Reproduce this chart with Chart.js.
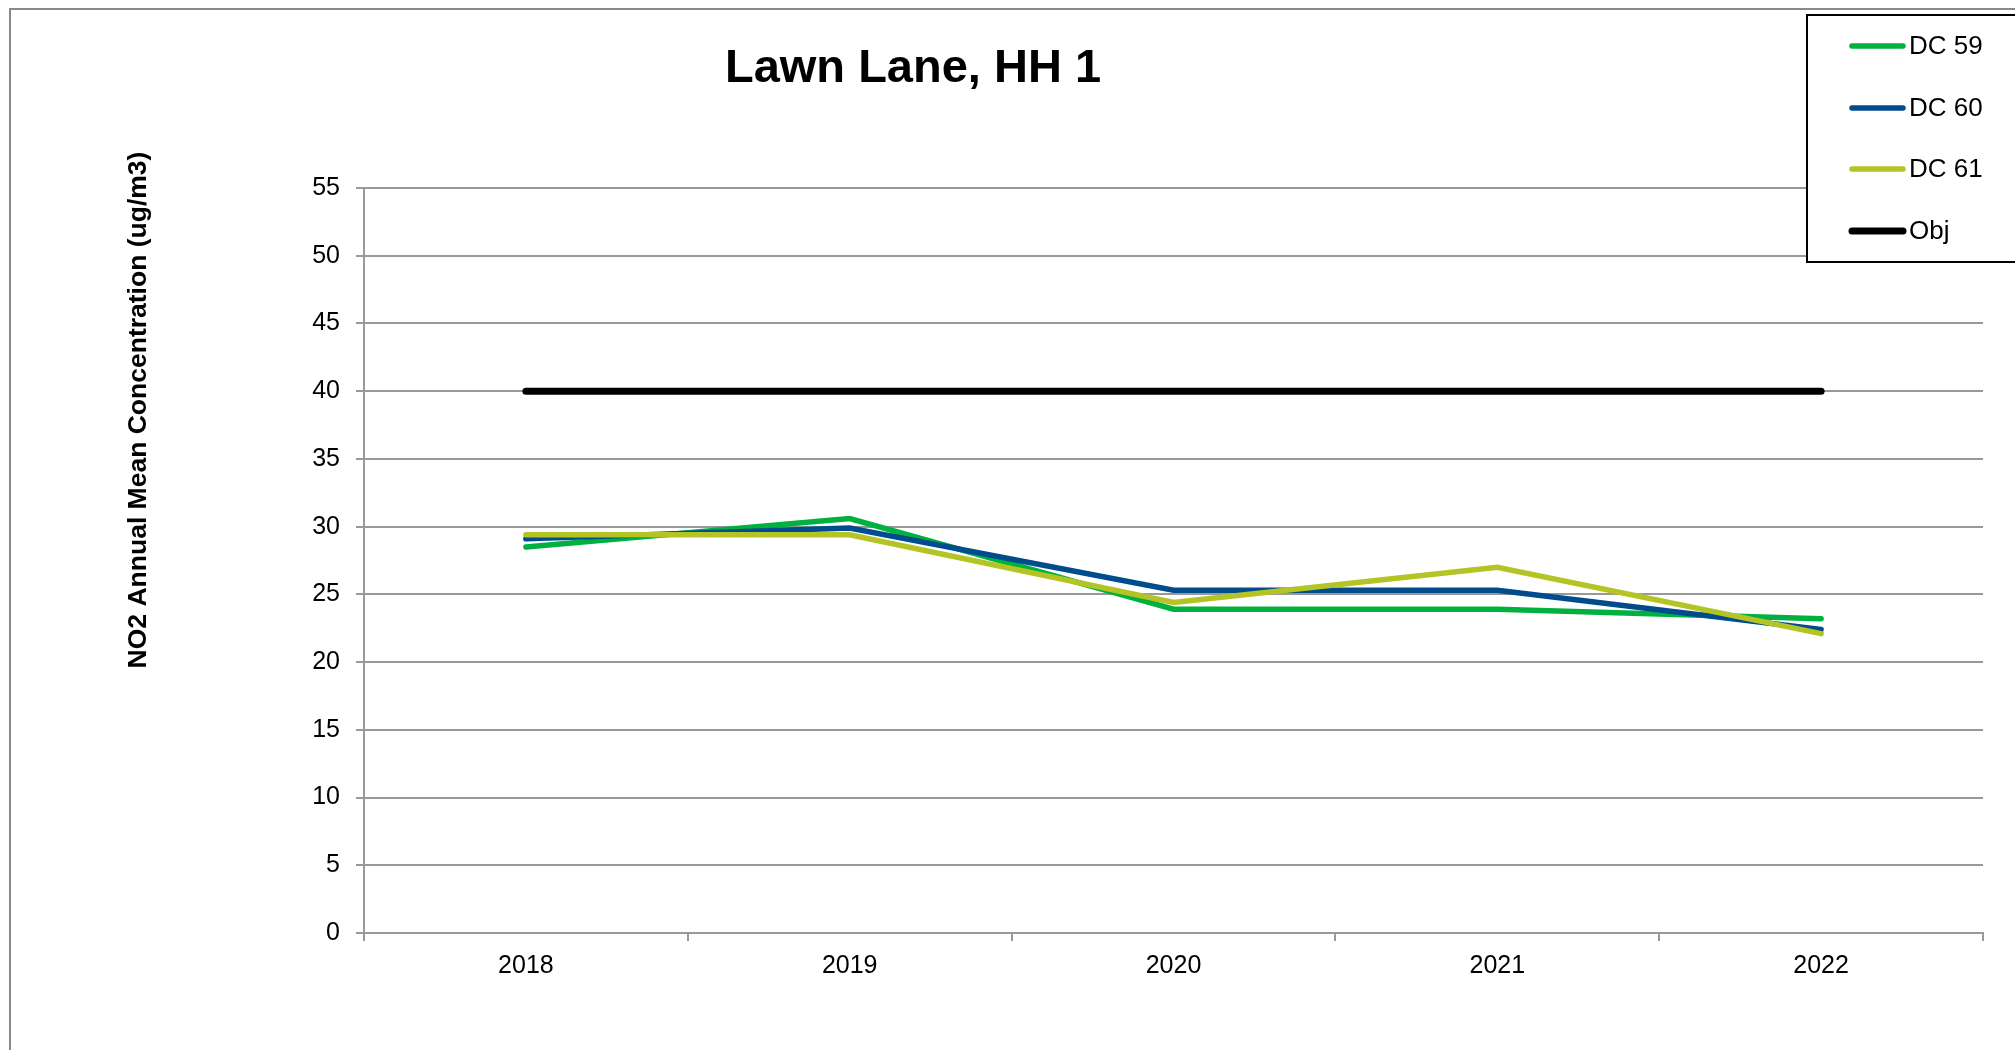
<!DOCTYPE html>
<html>
<head>
<meta charset="utf-8">
<script src="https://cdn.jsdelivr.net/npm/chart.js@4"></script>
<style>
html,body{margin:0;padding:0;background:#fff;}
canvas{display:block;}
</style>
</head>
<body>
<canvas id="c" width="2015" height="1050"></canvas>
<script>
const chartTitle = "Lawn Lane, HH 1";
const yAxisTitle = "NO2 Annual Mean Concentration (ug/m3)";
const years = ["2018", "2019", "2020", "2021", "2022"];
const dc59 = [28.5, 30.6, 23.9, 23.9, 23.2];
const dc60 = [29.1, 29.9, 25.3, 25.3, 22.4];
const dc61 = [29.4, 29.4, 24.4, 27.0, 22.1];
const obj  = [40, 40, 40, 40, 40];
const seriesNames = ["DC 59", "DC 60", "DC 61", "Obj"];
const seriesColors = ["#00B140", "#004C8C", "#B4C424", "#000000"];
const yMin = 0, yMax = 55, yStep = 5;

const FONT = "'Liberation Sans', Arial, Helvetica, sans-serif";

const decor = {
  id: 'decor',
  beforeDraw(chart) {
    const ctx = chart.ctx;
    ctx.save();
    ctx.fillStyle = '#ffffff';
    ctx.fillRect(0, 0, chart.width, chart.height);
    ctx.strokeStyle = '#8a8a8a';
    ctx.lineWidth = 2;
    ctx.beginPath();
    ctx.moveTo(10, chart.height + 5);
    ctx.lineTo(10, 9);
    ctx.lineTo(chart.width + 5, 9);
    ctx.stroke();
    ctx.restore();
  },
  afterDraw(chart) {
    const ctx = chart.ctx;
    ctx.save();
    // title
    ctx.fillStyle = '#000';
    ctx.font = "bold 47px " + FONT;
    ctx.textAlign = 'center';
    ctx.textBaseline = 'middle';
    ctx.fillText(chartTitle, 913, 69);
    // y axis title
    ctx.save();
    ctx.translate(139, 410);
    ctx.rotate(-Math.PI / 2);
    ctx.font = "bold 26.5px " + FONT;
    ctx.fillText(yAxisTitle, 0, 0);
    ctx.restore();
    // legend
    ctx.fillStyle = '#fff';
    ctx.fillRect(1807, 15, 300, 247);
    ctx.strokeStyle = '#000';
    ctx.lineWidth = 2;
    ctx.strokeRect(1807, 15, 300, 247);
    const ys = [46, 108, 169, 231];
    chart.data.datasets.forEach((ds, i) => {
      const y = ys[i];
      ctx.strokeStyle = ds.borderColor;
      ctx.lineWidth = ds.borderWidth;
      ctx.lineCap = 'round';
      ctx.beginPath();
      ctx.moveTo(1852, y);
      ctx.lineTo(1903, y);
      ctx.stroke();
      ctx.fillStyle = '#000';
      ctx.font = "26px " + FONT;
      ctx.textAlign = 'left';
      ctx.textBaseline = 'middle';
      ctx.fillText(ds.label, 1909, y + 1);
    });
    ctx.restore();
  }
};

const seriesData = [dc59, dc60, dc61, obj];
const orders = [3, 2, 1, 0];
const widths = [5.5, 5.5, 5.5, 7];

new Chart(document.getElementById('c'), {
  type: 'line',
  data: {
    labels: years,
    datasets: seriesData.map((d, i) => ({
      label: seriesNames[i],
      data: d,
      borderColor: seriesColors[i],
      backgroundColor: seriesColors[i],
      borderWidth: widths[i],
      pointRadius: 0,
      tension: 0,
      fill: false,
      borderCapStyle: 'round',
      borderJoinStyle: 'miter',
      order: orders[i]
    }))
  },
  options: {
    responsive: false,
    animation: false,
    devicePixelRatio: 1,
    layout: { padding: { top: 188, left: 20, right: 32, bottom: 37 } },
    plugins: {
      legend: { display: false },
      title: { display: false },
      tooltip: { enabled: false }
    },
    scales: {
      x: {
        offset: true,
        afterFit(scale) { scale.height = 80; },
        grid: {
          offset: true,
          drawOnChartArea: false,
          drawTicks: true,
          tickLength: 8,
          color: '#999999',
          lineWidth: 2
        },
        border: { display: true, color: '#999999', width: 2 },
        ticks: {
          color: '#000',
          font: { family: FONT, size: 25 },
          padding: 10,
          maxRotation: 0
        }
      },
      y: {
        min: yMin,
        max: yMax,
        afterFit(scale) { scale.width = 344; },
        grid: {
          color: '#999999',
          lineWidth: 2,
          tickLength: 8,
          drawTicks: true
        },
        border: { display: true, color: '#999999', width: 2 },
        ticks: {
          stepSize: yStep,
          color: '#000',
          font: { family: FONT, size: 25 },
          padding: 16
        }
      }
    }
  },
  plugins: [decor]
});
</script>
</body>
</html>
